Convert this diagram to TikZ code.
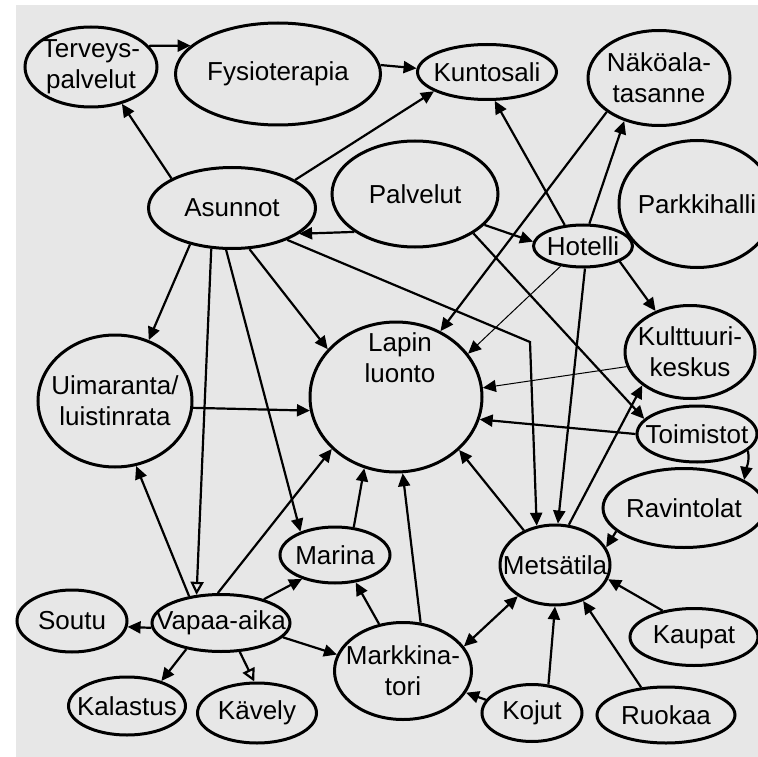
\documentclass[tikz,border=0pt]{standalone}
\usepackage{fontspec}
\setmainfont{Liberation Sans}
\usetikzlibrary{shapes.geometric,arrows.meta}
\definecolor{paper}{RGB}{231,231,231}
\begin{document}
\begin{tikzpicture}[x=1pt,y=-1pt,
  box/.style={ellipse,draw,line width=3pt,inner sep=-20pt,align=center,font=\fontsize{26}{31}\selectfont},
  lbl/.style={align=center,font=\fontsize{26}{31}\selectfont,inner sep=0pt},
  tip/.tip={Triangle[length=13pt,width=12pt]},
  conn/.style={line width=2.2pt,-tip},
  thinconn/.style={line width=1pt,-tip},
  openconn/.style={line width=2.2pt,-{Triangle[open,length=13pt,width=13pt,line width=2.2pt]}}]
\useasboundingbox (0,0) rectangle (758,757);
\fill[white] (0,0) rectangle (758,757);
\fill[paper] (16,5) rectangle (758,757);

\node[box,minimum width=132pt,minimum height=80pt] (terv) at (91,67) {Terveys-\\palvelut};
\node[box,minimum width=205pt,minimum height=102pt] (fysio) at (278,74) {Fysioterapia};
\node[box,minimum width=139pt,minimum height=55pt] (kunto) at (487,72) {Kuntosali};
\node[box,minimum width=142pt,minimum height=95pt] (nako) at (659,78) {Näköala-\\tasanne};
\node[box,minimum width=167pt,minimum height=81pt] (asun) at (232,208) {Asunnot};
\node[box,minimum width=166pt,minimum height=106pt] (palv) at (415,194) {Palvelut};
\node[box,minimum width=99pt,minimum height=42pt] (hot) at (583,246) {Hotelli};
\node[box,minimum width=156pt,minimum height=127pt] (park) at (697,204) {Parkkihalli};
\node[box,minimum width=130pt,minimum height=93pt] (kult) at (690,352) {Kulttuuri-\\keskus};
\node[box,minimum width=172pt,minimum height=150pt] (lapin) at (396,397) {};
\node[lbl] (lapintxt) at (400,358) {Lapin\\luonto};
\node[box,minimum width=154pt,minimum height=132pt] (uima) at (115,401) {Uimaranta/\\luistinrata};
\node[box,minimum width=120pt,minimum height=56pt] (toim) at (697,434) {Toimistot};
\node[box,minimum width=162pt,minimum height=79pt] (rav) at (684,508) {Ravintolat};
\node[box,minimum width=110pt,minimum height=80pt] (mets) at (555,565) {Metsätila};
\node[box,minimum width=110pt,minimum height=56pt] (marina) at (335,555) {Marina};
\node[box,minimum width=138pt,minimum height=57pt] (vapaa) at (221,623) {Vapaa-aika};
\node[box,minimum width=110pt,minimum height=62pt] (soutu) at (72,621) {Soutu};
\node[box,minimum width=137pt,minimum height=97pt] (markk) at (403,671) {Markkina-\\tori};
\node[box,minimum width=128pt,minimum height=57pt] (kaupat) at (694,637) {Kaupat};
\node[box,minimum width=117pt,minimum height=58pt] (kal) at (127,706) {Kalastus};
\node[box,minimum width=119pt,minimum height=60pt] (kav) at (257,713) {Kävely};
\node[box,minimum width=100pt,minimum height=57pt] (kojut) at (532,713) {Kojut};
\node[box,minimum width=138pt,minimum height=56pt] (ruok) at (666,715) {Ruokaa};

\coordinate (bend1) at (530,342);

\draw[conn] (terv.20) -- (fysio.162);
\draw[conn] (fysio.5) -- (kunto.177);
\draw[conn] (asun.154) -- (terv.-50);
\draw[conn] (asun.24) -- (kunto.200);
\draw[conn] (palv.212) -- (asun.-21);
\draw[conn] (palv.-24) -- (hot.175);
\draw[conn] (hot.131) -- (kunto.-75);
\draw[conn] (hot.74) -- (nako.-129);
\draw[conn] (nako.213) -- (lapin.56);
\draw[thinconn] (hot.222) -- (lapin.31);
\draw[conn] (hot.-85) -- (mets.86);
\draw[conn] (hot.-23) -- (kult.130);
\draw[conn] (asun.-30) -- (bend1) -- (mets.115);
\draw[conn] (palv.-34) -- (toim.164);
\draw[thinconn] (kult.193) -- (lapin.6);
\draw[conn] (toim.180) -- (lapin.-15);
\draw[conn] (toim.-18) to[out=-80,in=80] (rav.25);
\draw[conn] (mets.132) -- (lapin.-40);
\draw[conn] (mets.71) -- (kult.215);
\draw[conn] (rav.199) -- (mets.19);
\draw[conn] (kaupat.140) -- (mets.-15);
\draw[conn] (ruok.132) -- (mets.-52);
\draw[conn] (kojut.60) -- (mets.-90);
\draw[conn] (kojut.164) -- (markk.-19);
\draw[line width=2.2pt,tip-tip] (markk.22) -- (mets.220);
\draw[conn] (markk.117) -- (marina.-53);
\draw[conn] (markk.70) -- (lapin.-85);
\draw[conn] (marina.56) -- (lapin.-114);
\draw[conn] (vapaa.96) -- (lapin.219);
\draw[conn] (vapaa.140) -- (uima.-72);
\draw[conn] (uima.-5) -- (lapin.189);
\draw[conn] (asun.-67) -- (lapin.145);
\draw[conn] (asun.-98) -- (marina.146);
\draw[conn] (asun.221) -- (uima.61);
\draw[openconn] (asun.243) -- (vapaa.131);
\draw[conn] (vapaa.29) -- (marina.216);
\draw[conn] (vapaa.-13) -- (markk.166);
\draw[conn] (vapaa.184) -- (soutu.-6);
\draw[conn] (vapaa.217) -- (kal.36);
\draw[openconn] (vapaa.-57) -- (kav.95);
\end{tikzpicture}
\end{document}
